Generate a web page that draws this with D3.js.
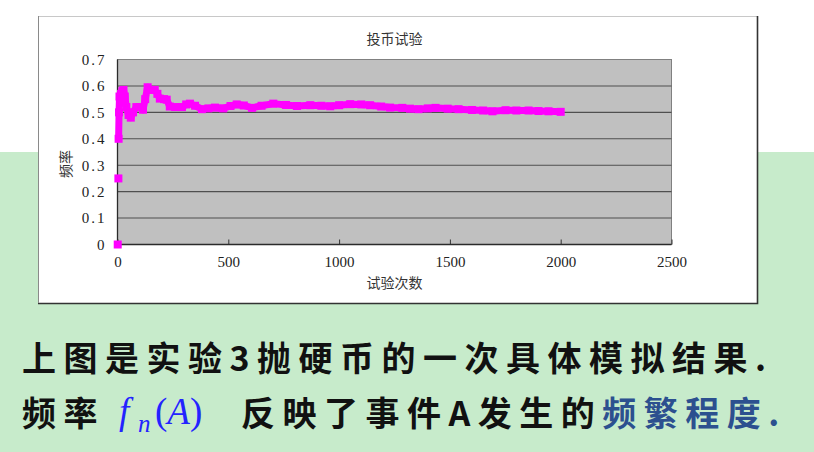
<!DOCTYPE html>
<html>
<head>
<meta charset="utf-8">
<script src="https://cdn.jsdelivr.net/npm/d3@7"></script>
<style>
  html, body { margin: 0; padding: 0; background: #fff; }
  svg { display: block; }
</style>
</head>
<body>
<svg id="slide" width="814" height="452"></svg>
<script>
// Coin-toss experiment: running frequency of heads vs. number of tosses
const chartTitle = "投币试验";
const xTitle = "试验次数";
const yTitle = "频率";

const xTicks = [0, 500, 1000, 1500, 2000, 2500];
const yTicks = [0, 0.1, 0.2, 0.3, 0.4, 0.5, 0.6, 0.7];

// first isolated observations (drawn as markers only)
const startTrials = [1, 4];
const startFreq = [0, 0.25];

// running frequency series
const trials = [5, 7, 9, 12, 16, 22, 27, 33, 40, 50, 60, 70, 85, 100, 115, 125, 136,
  150, 168, 180, 191, 210, 222, 236, 260, 291, 310, 327, 350, 381, 410, 440, 477,
  510, 538, 570, 607, 650, 703, 760, 810, 870, 920, 960, 1000, 1050, 1100, 1140,
  1190, 1230, 1285, 1320, 1358, 1400, 1435, 1490, 1539, 1600, 1650, 1692, 1751,
  1800, 1855, 1900, 1945, 2000];
const freq = [0.40, 0.50, 0.56, 0.55, 0.57, 0.58, 0.585, 0.56, 0.52, 0.49, 0.48, 0.50,
  0.52, 0.52, 0.51, 0.55, 0.595, 0.585, 0.585, 0.57, 0.552, 0.55, 0.548, 0.522,
  0.52, 0.52, 0.53, 0.533, 0.525, 0.512, 0.515, 0.518, 0.515, 0.524, 0.53, 0.526,
  0.517, 0.525, 0.533, 0.528, 0.524, 0.527, 0.525, 0.523, 0.527, 0.531, 0.530,
  0.527, 0.522, 0.518, 0.517, 0.514, 0.512, 0.515, 0.517, 0.514, 0.512, 0.509,
  0.507, 0.504, 0.508, 0.507, 0.507, 0.505, 0.504, 0.502];

const svg = d3.select("#slide");

// slide background: white band on top, light green below
svg.append("rect").attr("x", 0).attr("y", 0).attr("width", 814).attr("height", 452).attr("fill", "#ffffff");
svg.append("rect").attr("x", 0).attr("y", 152).attr("width", 814).attr("height", 300).attr("fill", "#c7ebcb");

// chart frame
const frame = { x: 38, y: 16, w: 719, h: 287 };
svg.append("rect")
  .attr("x", frame.x + 0.5).attr("y", frame.y + 0.5)
  .attr("width", frame.w).attr("height", frame.h)
  .attr("fill", "#ffffff").attr("stroke", "#c8c8c8");
svg.append("path")
  .attr("d", `M${frame.x + frame.w + 0.5},${frame.y} V${frame.y + frame.h + 0.5} H${frame.x}`)
  .attr("fill", "none").attr("stroke", "#333").attr("stroke-width", 1.6);
svg.append("path")
  .attr("d", `M${frame.x + 0.5},${frame.y} V${frame.y + frame.h}`)
  .attr("fill", "none").attr("stroke", "#8a8a8a").attr("stroke-width", 1);

// plot area
const plot = { left: 117.5, right: 671.5, top: 59.5, bottom: 244.5 };
const x = d3.scaleLinear().domain([0, 2500]).range([plot.left, plot.right]);
const y = d3.scaleLinear().domain([0, 0.7]).range([plot.bottom, plot.top]);

svg.append("rect")
  .attr("x", plot.left).attr("y", plot.top)
  .attr("width", plot.right - plot.left).attr("height", plot.bottom - plot.top)
  .attr("fill", "#c0c0c0").attr("stroke", "#808080").attr("stroke-width", 1);

// horizontal gridlines
svg.append("g").selectAll("line")
  .data(yTicks.filter(d => d > 0 && d < 0.7))
  .join("line")
  .attr("x1", plot.left).attr("x2", plot.right)
  .attr("y1", d => y(d)).attr("y2", d => y(d))
  .attr("stroke", "#4f4f4f").attr("stroke-width", 1.1);

// axes
const xAxis = svg.append("g")
  .attr("transform", `translate(0,${plot.bottom})`)
  .call(d3.axisBottom(x).tickValues(xTicks).tickSize(-5).tickPadding(12).tickFormat(d3.format("d")));
xAxis.select(".domain").remove();
xAxis.selectAll(".tick line").attr("stroke", "#333");
xAxis.selectAll("text")
  .attr("fill", "#222").attr("font-family", "'Liberation Serif', serif").attr("font-size", 15);

const yAxis = svg.append("g")
  .attr("transform", `translate(${plot.left},0)`)
  .call(d3.axisLeft(y).tickValues(yTicks).tickSize(0).tickPadding(11)
    .tickFormat(d => d === 0 ? "0" : d3.format(".1f")(d)));
yAxis.select(".domain").remove();
yAxis.selectAll("text")
  .attr("fill", "#222").attr("font-family", "'Liberation Serif', serif").attr("font-size", 15)
  .attr("letter-spacing", "2px");

// dark axis lines on left and bottom
svg.append("path")
  .attr("d", `M${plot.left},${plot.top} V${plot.bottom} H${plot.right}`)
  .attr("fill", "none").attr("stroke", "#2b2b2b").attr("stroke-width", 1.3);

// titles
svg.append("text")
  .attr("x", (plot.left + plot.right) / 2).attr("y", 44)
  .attr("text-anchor", "middle")
  .attr("font-family", "'Noto Sans CJK SC', sans-serif").attr("font-size", 14)
  .attr("fill", "#333").text(chartTitle);
svg.append("text")
  .attr("x", (plot.left + plot.right) / 2).attr("y", 288)
  .attr("text-anchor", "middle")
  .attr("font-family", "'Noto Sans CJK SC', sans-serif").attr("font-size", 14)
  .attr("fill", "#333").text(xTitle);
svg.append("text")
  .attr("transform", "translate(71,164) rotate(-90)")
  .attr("text-anchor", "middle")
  .attr("font-family", "'Noto Sans CJK SC', sans-serif").attr("font-size", 14)
  .attr("fill", "#333").text(yTitle);

// frequency series
const series = trials.map((t, i) => ({ t, f: freq[i] }));
const line = d3.line().x(d => x(d.t)).y(d => y(d.f));
svg.append("path")
  .datum(series)
  .attr("d", line)
  .attr("fill", "none").attr("stroke", "#ff00ff")
  .attr("stroke-width", 7).attr("stroke-linejoin", "round");

const m = 8;
svg.append("g").selectAll("rect")
  .data(series)
  .join("rect")
  .attr("x", d => x(d.t) - m / 2).attr("y", d => y(d.f) - m / 2)
  .attr("width", m).attr("height", m).attr("fill", "#ff00ff");

svg.append("g").selectAll("rect")
  .data(startTrials.map((t, i) => ({ t, f: startFreq[i] })))
  .join("rect")
  .attr("x", d => x(d.t) - m / 2).attr("y", d => y(d.f) - m / 2)
  .attr("width", m).attr("height", m).attr("fill", "#ff00ff");

// caption lines
const cjk = "'Noto Sans CJK SC', sans-serif";
svg.append("text")
  .attr("x", 22).attr("y", 371)
  .attr("font-family", cjk).attr("font-size", 34).attr("font-weight", 700)
  .attr("letter-spacing", "7.5px").attr("fill", "#111")
  .text("上图是实验3抛硬币的一次具体模拟结果.");

const line2 = svg.append("text")
  .attr("y", 426)
  .attr("font-family", cjk).attr("font-size", 34).attr("font-weight", 700)
  .attr("fill", "#111");
line2.append("tspan").attr("x", 22).attr("letter-spacing", "7.5px").text("频率");

// f_n(A) in blue math type
const mathFont = "'Liberation Serif', 'Times New Roman', serif";
line2.append("tspan").attr("x", 119).attr("y", 424)
  .attr("font-family", mathFont).attr("font-style", "italic").attr("font-weight", 400)
  .attr("font-size", 37).attr("fill", "#2323ff").text("f");
line2.append("tspan").attr("x", 138).attr("y", 432)
  .attr("font-family", mathFont).attr("font-style", "italic").attr("font-weight", 400)
  .attr("font-size", 25).attr("fill", "#2323ff").text("n");
line2.append("tspan").attr("x", 155).attr("y", 424)
  .attr("font-family", mathFont).attr("font-weight", 400)
  .attr("font-size", 37).attr("fill", "#2323ff").text("(");
line2.append("tspan").attr("y", 424)
  .attr("font-family", mathFont).attr("font-style", "italic").attr("font-weight", 400)
  .attr("font-size", 37).attr("fill", "#2323ff").text("A");
line2.append("tspan").attr("y", 424)
  .attr("font-family", mathFont).attr("font-weight", 400)
  .attr("font-size", 37).attr("fill", "#2323ff").text(")");

line2.append("tspan").attr("x", 241).attr("y", 426).attr("letter-spacing", "7.5px")
  .text("反映了事件A发生的");
line2.append("tspan").attr("letter-spacing", "7.5px").attr("fill", "#2c508f")
  .text("频繁程度.");
</script>
</body>
</html>
